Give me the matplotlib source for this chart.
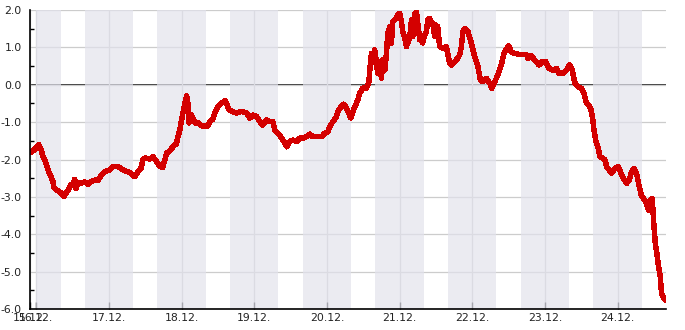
import matplotlib
matplotlib.use("Agg")
import matplotlib.pyplot as plt
from matplotlib.ticker import FixedLocator, MultipleLocator

# hours since 16.12. 00:00
hours = [
    -2.08, -1.65, -0.76, 0.07, 0.79, 1.55, 2.21, 3.04, 3.86, 4.69, 5.51, 5.84,
    6.5, 7.16, 7.99, 8.81, 9.14, 9.8, 10.46, 11.45, 12.11, 12.68, 13.1, 13.76,
    14.75, 16.07, 17.07, 18.06, 19.38, 20.37, 21.36, 22.58, 24.23, 25.32, 26.97,
    28.62, 30.27, 31.26, 32.48, 33.57, 34.56, 35.22, 35.88, 37.53, 38.52, 39.74,
    40.83, 41.72, 42.48, 43.04, 44.13, 45.12, 46.34, 46.77, 47.43, 47.99, 48.42,
    49.08, 49.64, 50.07, 50.4, 51.29, 51.72, 52.38, 53.37, 54.6, 56.68, 57.34,
    58.33, 58.99, 59.98, 61.2, 62.29, 62.85, 63.61, 64.93, 66.15, 67.24, 68.23,
    69.45, 70.54, 71.53, 72.75, 73.84, 74.83, 76.05, 77.14, 78.13, 78.79, 79.78,
    81.0, 82.09, 82.75, 83.74, 84.73, 85.95, 87.04, 88.03, 89.25, 90.34, 91.33,
    92.55, 94.2, 95.29, 96.28, 96.94, 97.93, 99.16, 99.58, 100.81, 101.57,
    102.46, 103.22, 103.88, 104.54, 105.2, 106.2, 106.86, 107.85, 109.06, 109.82,
    110.15, 110.71, 111.14, 111.8, 112.79, 113.45, 114.01, 114.44, 115.1, 115.66,
    116.09, 116.75, 117.31, 117.74, 118.96, 119.39, 120.05, 120.61, 121.04,
    121.7, 122.26, 122.69, 123.35, 123.91, 124.34, 125.0, 125.56, 125.99,
    126.65, 127.21, 127.64, 128.3, 128.86, 129.29, 129.95, 130.51, 130.94,
    131.6, 131.93, 132.59, 133.25, 134.24, 135.46, 135.89, 136.55, 137.11,
    138.2, 139.19, 139.85, 140.41, 140.94, 141.5, 142.59, 143.71, 144.8, 145.89,
    146.68, 147.54, 148.66, 149.75, 150.51, 151.4, 152.49, 153.61, 154.47,
    155.27, 156.03, 156.92, 158.01, 159.66, 161.87, 162.4, 163.52, 164.61,
    166.03, 167.15, 168.24, 169.33, 170.65, 171.77, 172.63, 173.95, 175.07,
    176.16, 177.05, 177.81, 178.9, 180.02, 180.9, 181.56, 182.32, 183.11,
    183.77, 184.2, 184.86, 185.62, 186.18, 187.07, 187.83, 188.39, 189.25,
    190.04, 191.13, 192.22, 192.78, 193.87, 194.99, 195.85, 196.64, 197.5,
    198.29, 199.04, 199.83, 200.59, 201.48, 202.24, 202.8, 203.46, 203.89,
    204.45, 204.98, 205.54, 206.1, 206.53, 207.19, 207.85,
]
values = [
    -1.8, -1.8, -1.75, -1.68, -1.6, -1.72, -1.93, -2.05, -2.28, -2.42, -2.59, -2.76,
    -2.8, -2.84, -2.88, -2.95, -2.98, -2.9, -2.82, -2.68, -2.65, -2.53, -2.77, -2.63,
    -2.63, -2.6, -2.66, -2.6, -2.55, -2.55, -2.44, -2.32, -2.28, -2.19, -2.19,
    -2.28, -2.33, -2.37, -2.46, -2.33, -2.24, -2.01, -1.96, -1.99, -1.92, -2.06,
    -2.19, -2.21, -2.01, -1.83, -1.77, -1.66, -1.57, -1.39, -1.21, -0.94, -0.76,
    -0.49, -0.3, -0.49, -1.02, -0.81, -0.9, -1.02, -1.02, -1.1, -1.1, -0.99,
    -0.92, -0.76, -0.59, -0.49, -0.43, -0.49, -0.67, -0.72, -0.76, -0.72, -0.72,
    -0.76, -0.89, -0.81, -0.85, -0.99, -1.08, -0.94, -0.99, -0.99, -1.21, -1.29,
    -1.42, -1.56, -1.66, -1.52, -1.48, -1.52, -1.43, -1.43, -1.39, -1.32, -1.39,
    -1.39, -1.39, -1.3, -1.26, -1.12, -0.99, -0.85, -0.72, -0.57, -0.52,
    -0.62, -0.76, -0.89, -0.72, -0.59, -0.41, -0.22, -0.09, -0.09, 0.05,
    0.39, 0.84, 0.6, 0.93, 0.31, 0.62, 0.17, 0.66, 0.39, 0.84,
    1.38, 1.55, 1.11, 1.69, 1.78, 1.87, 1.91, 1.69, 1.42,
    1.25, 1.02, 1.12, 1.25, 1.73, 1.29, 1.91, 1.95, 1.65,
    1.2, 1.25, 1.12, 1.33, 1.42, 1.73, 1.78, 1.65, 1.65,
    1.29, 1.6, 1.55, 1.02, 0.98, 1.02, 0.84, 0.58, 0.53,
    0.62, 0.71, 0.8, 1.02, 1.42, 1.51, 1.42, 1.11, 0.75, 0.48,
    0.13, 0.08, 0.17, 0.04, -0.09, 0.08, 0.26, 0.53, 0.84,
    0.95, 1.04, 0.88, 0.84, 0.81, 0.81, 0.71, 0.78, 0.66,
    0.53, 0.62, 0.62, 0.44, 0.39, 0.44, 0.31, 0.31, 0.39,
    0.53, 0.4, 0.06, -0.05, -0.09, -0.23, -0.45, -0.54, -0.63,
    -0.9, -1.21, -1.52, -1.7, -1.92, -1.97, -2.01, -2.19, -2.28,
    -2.37, -2.24, -2.19, -2.3, -2.5, -2.64, -2.55, -2.33, -2.24,
    -2.37, -2.68, -2.95, -3.04, -3.17, -3.35, -3.08, -3.04, -3.62,
    -4.24, -4.51, -4.87, -5.14, -5.58, -5.71, -5.76,
]

# night bands (16:00 -> 08:00), hours since 16.12. 00:00
band_starts = [0, 16, 40, 64, 88, 112, 136, 160, 184]
band_ends = [8, 32, 56, 80, 104, 128, 152, 176, 200]

tick_hours = [-2.08, 0, 24, 48, 72, 96, 120, 144, 168, 192]
tick_labels = ["15.12.", "16.12.", "17.12.", "18.12.", "19.12.", "20.12.",
               "21.12.", "22.12.", "23.12.", "24.12."]

fig = plt.figure(figsize=(6.85, 3.3), dpi=100)
ax = fig.add_axes([30 / 685, 21 / 330, 636 / 685, 299 / 330])

ax.axhline(0, color="black", linewidth=1.1, zorder=1)
for s, e in zip(band_starts, band_ends):
    ax.axvspan(s, e, color="#e2e2ec", alpha=0.69, linewidth=0, zorder=2)

# blocky, non-antialiased line like the original renderer
ax.plot(hours, values, color="#d40000", linewidth=3.2, zorder=4,
        antialiased=False, solid_joinstyle="round", solid_capstyle="round")

ax.set_xlim(-2.08, 208.0)
ax.set_ylim(-6, 2)

ax.xaxis.set_major_locator(FixedLocator(tick_hours))
ax.set_xticklabels(tick_labels)
ax.yaxis.set_major_locator(MultipleLocator(1))
ax.yaxis.set_minor_locator(MultipleLocator(0.5))
ax.yaxis.set_major_formatter(lambda v, p: f"{v:.1f}")

ax.grid(True, color="#cccccc", linewidth=0.9, zorder=3)
for gl in ax.get_xgridlines() + ax.get_ygridlines():
    gl.set_zorder(3)

ax.tick_params(axis="both", direction="in", labelsize=7.8, colors="#222222",
               width=1, length=5, pad=3)
ax.tick_params(axis="y", which="minor", direction="in", length=3, width=1)
ax.tick_params(axis="y", which="major", length=0, pad=6)
ax.spines[["top", "right"]].set_visible(False)
for sp in ("left", "bottom"):
    ax.spines[sp].set_linewidth(1.2)
    ax.spines[sp].set_zorder(5)

fig.savefig("out.png", dpi=100)
